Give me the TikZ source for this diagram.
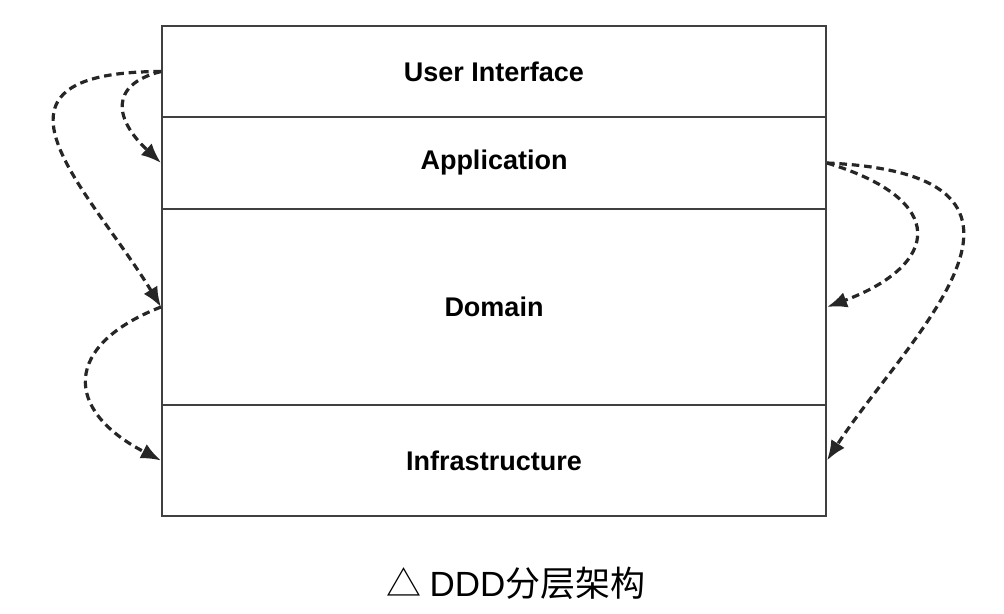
\documentclass[tikz,border=0pt]{standalone}
\usepackage{fontspec}
\setsansfont{Liberation Sans}
\newfontfamily\cjk{Noto Sans CJK SC}
\usetikzlibrary{arrows.meta}
\tikzset{
	layer/.style={draw=black!75,line width=1pt,minimum width=332pt,inner sep=0pt,font=\fontsize{13.5}{16}\sffamily\bfseries},
	dep/.style={draw=black!85,line width=1.6pt,dash pattern=on 3.8pt off 2.4pt,-{Latex[length=10pt,width=8pt]}}
}

\begin{document}
\begin{tikzpicture}[x=0.5pt,y=-0.5pt]
	\useasboundingbox (0,0) rectangle (1004,614);

	\node [layer,minimum height=45.5pt] (ui) at (494,71.5) {User Interface};
	\node [layer,minimum height=46pt] (app) at (494,163) {Application};
	\node [layer,minimum height=98pt] (domain) at (494,307) {Domain};
	\node [layer,minimum height=55.5pt] (infra) at (494,460.5) {Infrastructure};

	\draw [dep] (ui.west) .. controls (108,85) and (115,120) .. (app.west);
	\draw [dep] (ui.west) .. controls (-40,72) and (90,190) .. (domain.west);
	\draw [dep] (domain.west) .. controls (63,345) and (63,410) .. (infra.west);
	\draw [dep] (app.east) .. controls (950,200) and (940,265) .. (domain.east);
	\draw [dep] (app.east) .. controls (1090,175) and (905,340) .. (infra.east);

	\node (caption) at (516,583) {\fontsize{17.5}{20}\selectfont\cjk △ \sffamily DDD\cjk 分层架构};
\end{tikzpicture}
\end{document}
